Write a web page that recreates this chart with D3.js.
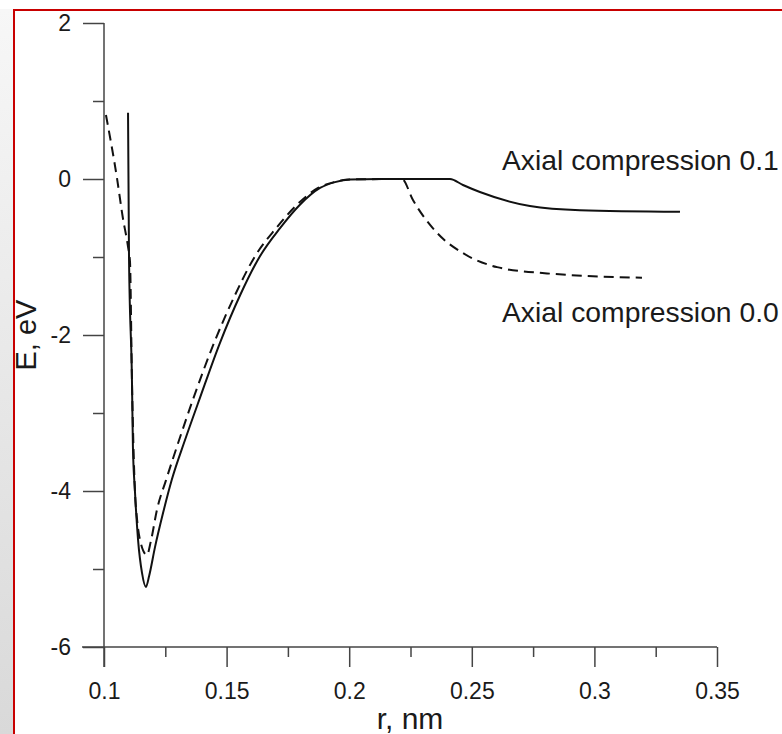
<!DOCTYPE html>
<html>
<head>
<meta charset="utf-8">
<script src="https://cdn.jsdelivr.net/npm/d3@7"></script>
<style>
  body { margin: 0; background: #fff; }
  text { font-family: "Liberation Sans", Arial, sans-serif; fill: #1a1a1a; }
</style>
</head>
<body>
<div id="chart"></div>
<script>
// r (nm) and E (eV)
const rSolid = [0.1098, 0.1102, 0.1114, 0.1118, 0.1126, 0.1139, 0.1155, 0.1171, 0.1184, 0.1208, 0.1241, 0.1277, 0.133, 0.1392, 0.1473, 0.1555, 0.1636, 0.1718, 0.1799, 0.1881, 0.1942, 0.2003, 0.2126, 0.2411, 0.2464, 0.2533, 0.2737, 0.2941, 0.3349];
const eSolid = [0.85, -1.0, -2.58, -3.44, -3.99, -4.63, -5.05, -5.23, -5.09, -4.72, -4.28, -3.85, -3.35, -2.8, -2.1, -1.49, -0.99, -0.63, -0.33, -0.115, -0.04, -0.006, 0, 0, -0.077, -0.167, -0.346, -0.4, -0.42];

const rDashed = [0.1008, 0.1053, 0.1077, 0.1098, 0.1106, 0.1114, 0.1126, 0.1135, 0.1147, 0.1175, 0.1192, 0.1216, 0.1253, 0.1306, 0.1367, 0.1449, 0.1534, 0.1616, 0.1702, 0.1787, 0.1873, 0.1938, 0.2003, 0.2215, 0.226, 0.2358, 0.2464, 0.2603, 0.2807, 0.3194];
const eDashed = [0.82, 0.01, -0.5, -0.87, -1.06, -2.58, -3.99, -4.37, -4.63, -4.82, -4.63, -4.24, -3.86, -3.35, -2.79, -2.1, -1.49, -0.99, -0.63, -0.33, -0.115, -0.04, -0.006, 0, -0.27, -0.69, -0.95, -1.13, -1.21, -1.265];

const xTicks = [0.1, 0.15, 0.2, 0.25, 0.3, 0.35];
const xMinor = [0.125, 0.175, 0.225, 0.275, 0.325];
const yTicks = [2, 0, -2, -4, -6];
const yMinor = [1, -1, -3, -5];
const labels = ['Axial compression 0.1', 'Axial compression 0.0'];

const width = 782, height = 734;
const font = '"Liberation Sans", Arial, sans-serif';

const svg = d3.select('#chart').append('svg')
  .attr('width', width)
  .attr('height', height);

// page frame: grey strip on the left, red border
const grad = svg.append('defs').append('linearGradient')
  .attr('id', 'strip').attr('x1', 0).attr('y1', 0).attr('x2', 0).attr('y2', 1);
grad.append('stop').attr('offset', 0).attr('stop-color', '#f7f7f7');
grad.append('stop').attr('offset', 1).attr('stop-color', '#d9d9d9');
svg.append('rect').attr('x', 0).attr('y', 9).attr('width', 13).attr('height', height - 9).attr('fill', 'url(#strip)');
svg.append('line').attr('x1', 13).attr('x2', width).attr('y1', 10).attr('y2', 10)
  .attr('stroke', '#c80000').attr('stroke-width', 2);
svg.append('line').attr('x1', 14).attr('x2', 14).attr('y1', 9).attr('y2', height)
  .attr('stroke', '#c80000').attr('stroke-width', 2);

const x = d3.scaleLinear().domain([0.1, 0.35]).range([104, 717]);
const y = d3.scaleLinear().domain([-6, 2]).range([647, 23]);

const axisColor = '#444';

// x axis
const gx = svg.append('g').attr('transform', `translate(0,${y(-6)})`);
gx.call(d3.axisBottom(x).tickValues(xMinor).tickSize(10).tickFormat(''));
gx.append('g').call(d3.axisBottom(x).tickValues(xTicks).tickSize(20).tickFormat(d => String(d)).tickPadding(16));
gx.selectAll('.domain').remove();
gx.append('line').attr('x1', 82).attr('x2', x(0.35)).attr('stroke', axisColor).attr('stroke-width', 1.5);
gx.selectAll('.tick line').attr('stroke', axisColor).attr('stroke-width', 1.5);
gx.selectAll('.tick text').attr('font-size', 23).attr('fill', '#1a1a1a').attr('font-family', font);

// y axis
const gy = svg.append('g').attr('transform', `translate(${x(0.1)},0)`);
gy.call(d3.axisLeft(y).tickValues(yMinor).tickSize(11).tickFormat(''));
gy.append('g').call(d3.axisLeft(y).tickValues(yTicks).tickSize(21).tickFormat(d => String(d)).tickPadding(12));
gy.selectAll('.domain').remove();
gy.append('line').attr('y1', y(2)).attr('y2', y(-6) + 20).attr('stroke', axisColor).attr('stroke-width', 1.5);
gy.selectAll('.tick line').attr('stroke', axisColor).attr('stroke-width', 1.5);
gy.selectAll('.tick text').attr('font-size', 23).attr('fill', '#1a1a1a').attr('font-family', font);

// axis titles
svg.append('text')
  .attr('x', 410).attr('y', 729)
  .attr('text-anchor', 'middle')
  .attr('font-size', 30)
  .text('r, nm');

svg.append('text')
  .attr('transform', `translate(36,${y(-2)}) rotate(-90)`)
  .attr('text-anchor', 'middle')
  .attr('font-size', 29)
  .text('E, eV');

// curves
const line = d3.line()
  .x(d => x(d[0]))
  .y(d => y(d[1]))
  .curve(d3.curveMonotoneX);

svg.append('path')
  .datum(d3.zip(rSolid, eSolid))
  .attr('d', line)
  .attr('fill', 'none')
  .attr('stroke', '#111')
  .attr('stroke-width', 2);

svg.append('path')
  .datum(d3.zip(rDashed, eDashed))
  .attr('d', line)
  .attr('fill', 'none')
  .attr('stroke', '#111')
  .attr('stroke-width', 2)
  .attr('stroke-dasharray', '10,6');

// annotations
svg.append('text').attr('x', 502).attr('y', 170).attr('font-size', 28.3).text(labels[0]);
svg.append('text').attr('x', 502).attr('y', 322).attr('font-size', 28.3).text(labels[1]);
</script>
</body>
</html>
